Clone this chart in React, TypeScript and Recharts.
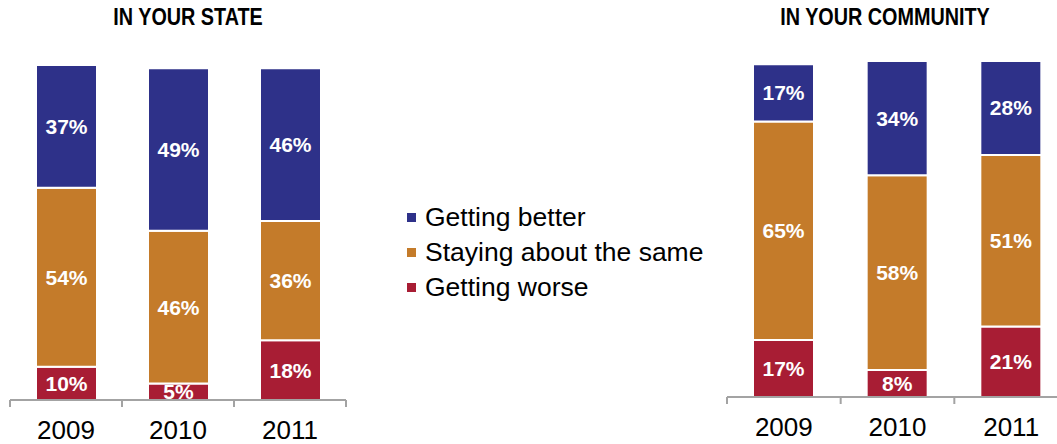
import React from "react"
import { Bar, BarChart, LabelList, XAxis, YAxis } from "recharts"

const years = ["2009", "2010", "2011"]
const seriesNames = ["Getting better", "Staying about the same", "Getting worse"]
const seriesColors = ["#2e3189", "#c47b2a", "#a81d34"]

const stateBetter = [37, 49, 46]
const stateSame = [54, 46, 36]
const stateWorse = [10, 5, 18]

const communityBetter = [17, 34, 28]
const communitySame = [65, 58, 51]
const communityWorse = [17, 8, 21]

const FONT = "'Liberation Sans', Arial, sans-serif"
const AXIS_GRAY = "#a3a3a3"

const buildRows = (better: number[], same: number[], worse: number[]) =>
  years.map((year, i) => ({ year, better: better[i], same: same[i], worse: worse[i] }))

const stateRows = buildRows(stateBetter, stateSame, stateWorse)
const communityRows = buildRows(communityBetter, communitySame, communityWorse)

// tick marks sit on the category boundaries, label in the middle
function YearTick(props: any) {
  const { x, y, payload, index } = props
  const half = payload.offset ?? 0
  return (
    <g>
      <line x1={x - half} x2={x - half} y1={y} y2={y + 7} stroke={AXIS_GRAY} strokeWidth={2} />
      {index === years.length - 1 && (
        <line x1={x + half} x2={x + half} y1={y} y2={y + 7} stroke={AXIS_GRAY} strokeWidth={2} />
      )}
      <text x={x} y={y + 39} textAnchor="middle" fontSize={26} fill="#000" fontFamily={FONT}>
        {payload.value}
      </text>
    </g>
  )
}

interface StackProps {
  data: Array<{ year: string; better: number; same: number; worse: number }>
  width: number
  margin: { top: number; right: number; bottom: number; left: number }
  axisHeight: number
  max: number
}

function StackedYears({ data, width, margin, axisHeight, max }: StackProps) {
  const keys = ["worse", "same", "better"]
  const colorFor = (k: string) => seriesColors[["better", "same", "worse"].indexOf(k)]
  return (
    <BarChart width={width} height={444} data={data} margin={margin}>
      <XAxis
        dataKey="year"
        height={axisHeight}
        tickLine={false}
        tickSize={0}
        tickMargin={0}
        interval={0}
        axisLine={{ stroke: AXIS_GRAY, strokeWidth: 2 }}
        tick={<YearTick />}
      />
      <YAxis hide domain={[0, max]} />
      {keys.map((k) => (
        <Bar
          key={k}
          dataKey={k}
          stackId="a"
          fill={colorFor(k)}
          stroke="#ffffff"
          strokeWidth={2}
          barSize={61}
          isAnimationActive={false}
        >
          <LabelList
            dataKey={k}
            position="center"
            fill="#ffffff"
            fontSize={21}
            fontWeight="bold"
            fontFamily={FONT}
            formatter={(v: any) => `${v}%`}
          />
        </Bar>
      ))}
    </BarChart>
  )
}

const titleStyle: React.CSSProperties = {
  position: "absolute",
  top: 4,
  fontFamily: "'Liberation Sans Narrow', 'Arial Narrow', 'Liberation Sans', Arial, sans-serif",
  fontWeight: "bold",
  fontSize: 23,
  color: "#000",
  transform: "translateX(-50%) scaleX(0.86)",
  whiteSpace: "nowrap",
}

export default function App() {
  return (
    <div
      style={{
        position: "fixed",
        left: 0,
        top: 0,
        width: 1057,
        height: 444,
        overflow: "hidden",
        background: "#fff",
      }}
    >
      <div style={{ ...titleStyle, left: 188 }}>IN YOUR STATE</div>
      <div style={{ ...titleStyle, left: 885 }}>IN YOUR COMMUNITY</div>

      <div style={{ position: "absolute", left: 0, top: 0 }}>
        <StackedYears
          data={stateRows}
          width={360}
          margin={{ top: 65, right: 14, bottom: 0, left: 10 }}
          axisHeight={44}
          max={101}
        />
      </div>

      <div style={{ position: "absolute", left: 700, top: 0 }}>
        <StackedYears
          data={communityRows}
          width={380}
          margin={{ top: 61, right: 12, bottom: 0, left: 27 }}
          axisHeight={47}
          max={100}
        />
      </div>

      <div style={{ position: "absolute", left: 407, top: 200, fontFamily: FONT }}>
        {seriesNames.map((name, i) => (
          <div key={name} style={{ display: "flex", alignItems: "center", height: 35 }}>
            <span
              style={{
                width: 9,
                height: 9,
                background: seriesColors[i],
                display: "inline-block",
                marginRight: 9,
              }}
            />
            <span style={{ fontSize: 26.5, color: "#000", lineHeight: "35px" }}>{name}</span>
          </div>
        ))}
      </div>
    </div>
  )
}
